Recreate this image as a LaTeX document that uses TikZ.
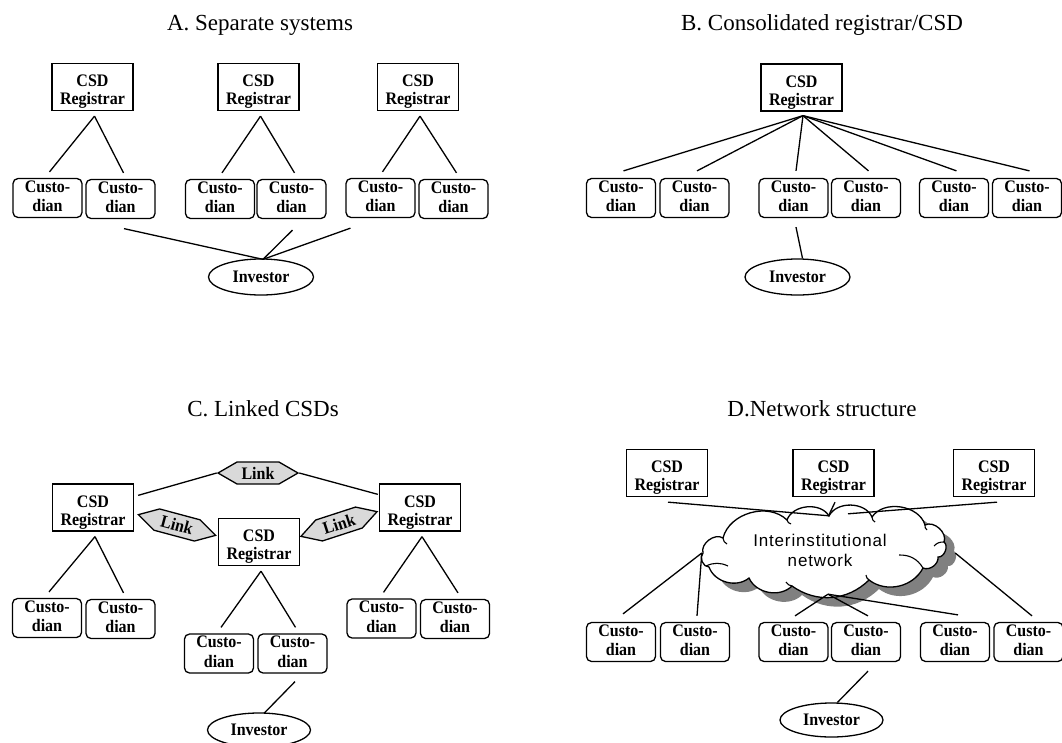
\documentclass[tikz,border=0pt]{standalone}
\usepackage{fontspec}
\usepackage{graphicx}
\setmainfont{Liberation Serif}
\newfontfamily\cloudfont{Liberation Sans}[LetterSpace=5]
\usetikzlibrary{shapes.geometric,shapes.symbols,calc}

\definecolor{linkgray}{HTML}{D9D9D9}
\definecolor{shadowgray}{HTML}{808080}

\tikzset{
  conn/.style={line width=1.3pt},
  labelfont/.style={font=\fontsize{16}{18}\selectfont\bfseries},
  registrar/.style={draw, line width=1.3pt, minimum width=81pt, minimum height=47pt,
    inner sep=0pt, font=\fontsize{16}{16.5}\selectfont\bfseries},
  custodian/.style={draw, line width=1.3pt, rounded corners=5pt, minimum width=69pt,
    minimum height=35pt, inner sep=0pt, font=\fontsize{16}{17.7}\selectfont\bfseries},
  investor/.style={ellipse, draw, line width=1.3pt, minimum width=105pt,
    minimum height=36pt, inner sep=0pt, labelfont},
  linkbox/.style={signal, signal to=east and west, signal pointer angle=60, draw,
    line width=1.3pt, fill=linkgray, minimum width=80pt, minimum height=22pt,
    inner sep=0pt, labelfont},
  title/.style={anchor=base, font=\fontsize{23}{27}\selectfont},
  curl/.style={line width=1.1pt},
}

% label texts, slightly tall
\newcommand\tall[1]{\scalebox{1}[1.1]{#1}}
\newcommand\regtext{\tall{\raisebox{-4.5pt}[\height][\depth]{%
  \begin{tabular}{@{}c@{}}CSD\\Registrar\end{tabular}}}}
\newcommand\custtext{\tall{\begin{tabular}{@{}c@{}}Custo-\\dian\end{tabular}}}

% one registrar feeding two custodians
\newcommand\regfork[3]{%
  \draw[conn] ($(#1.south)+(2,5)$) -- ($(#2.north)+(2,-6)$);
  \draw[conn] ($(#1.south)+(2,5)$) -- ($(#3.north)+(3,-6)$);}

% outline of the network cloud
\newcommand\cloudoutline{(703,553) to[bend left=70] (723,538)
  to[bend left=60] (787,520) to[bend left=65] (829,516)
  to[bend left=65] (872,517) to[bend left=65] (925,525)
  to[bend left=70] (944,542) to[bend left=75] (938,557)
  to[bend left=60] (923,568) to[bend left=50] (869,580)
  to[bend left=40] (792,586) to[bend left=55] (749,578)
  to[bend left=55] (709,567) to[bend left=70] (703,553) -- cycle}

\begin{document}
\begin{tikzpicture}[x=1pt,y=-1pt]
\useasboundingbox (0,0) rectangle (1062,742);

% ---------------- A. Separate systems ----------------
\node[title] (tA) at (260,30) {A. Separate systems};
\node[registrar] (rA1) at (92.5,87) {\regtext};
\node[registrar] (rA2) at (258.5,87) {\regtext};
\node[registrar] (rA3) at (418,87) {\regtext};
\node[custodian] (cA1) at (47.5,198) {\custtext};
\node[custodian] (cA2) at (120.5,199) {\custtext};
\node[custodian] (cA3) at (220,199) {\custtext};
\node[custodian] (cA4) at (291.5,199) {\custtext};
\node[custodian] (cA5) at (380.5,198) {\custtext};
\node[custodian] (cA6) at (453.5,199) {\custtext};
\node[investor] (iA) at (261,277) {\tall{Investor}};
\regfork{rA1}{cA1}{cA2}
\regfork{rA2}{cA3}{cA4}
\regfork{rA3}{cA5}{cA6}
\draw[conn] ($(cA2.south)+(3.5,9.5)$) -- ($(iA.north)+(2,1)$);
\draw[conn] ($(cA4.south)+(1,11)$) -- ($(iA.north)+(2,1)$);
\draw[conn] ($(cA5.south)+(-30,10)$) -- ($(iA.north)+(2,1)$);

% ---------------- B. Consolidated registrar/CSD ----------------
\node[title] (tB) at (822,30) {B. Consolidated registrar/CSD};
\node[registrar] (rB) at (801.5,87.5) {\regtext};
\node[custodian] (cB1) at (621,198) {\custtext};
\node[custodian] (cB2) at (694.5,198) {\custtext};
\node[custodian] (cB3) at (793.5,198) {\custtext};
\node[custodian] (cB4) at (866,198) {\custtext};
\node[custodian] (cB5) at (954,198) {\custtext};
\node[custodian] (cB6) at (1027,198) {\custtext};
\node[investor] (iB) at (797.5,277) {\tall{Investor}};
\foreach \c in {cB1,cB2,cB3,cB4,cB5,cB6}
  \draw[conn] ($(rB.south)+(1.5,4)$) -- ($(\c.north)+(2.5,-7)$);
\draw[conn] ($(cB3.south)+(2.5,9)$) -- ($(iB.north)+(5,0)$);

% ---------------- C. Linked CSDs ----------------
\node[title] (tC) at (263,416) {C. Linked CSDs};
\node[registrar] (rC1) at (93,507.5) {\regtext};
\node[registrar] (rC2) at (259,542) {\regtext};
\node[registrar] (rC3) at (420,507.5) {\regtext};
\node[linkbox] (lk1) at (258,473) {\tall{Link}};
\node[linkbox, rotate=-15] (lk2) at (177,525) {\tall{Link}};
\node[linkbox, rotate=18] (lk3) at (339,524) {\tall{Link}};
\draw[conn] ($(rC1.north east)+(4,12)$) -- (lk1.west);
\draw[conn] (lk1.east) -- ($(rC3.north west)+(-1,11)$);
\node[custodian] (cC1) at (47,618) {\custtext};
\node[custodian] (cC2) at (120.5,619) {\custtext};
\node[custodian] (cC3) at (219,653.5) {\custtext};
\node[custodian] (cC4) at (292.5,653.5) {\custtext};
\node[custodian] (cC5) at (381.5,618.5) {\custtext};
\node[custodian] (cC6) at (455,619) {\custtext};
\node[investor, minimum width=103pt, minimum height=34pt] (iC) at (259,730) {\tall{Investor}};
\regfork{rC1}{cC1}{cC2}
\regfork{rC2}{cC3}{cC4}
\regfork{rC3}{cC5}{cC6}
\draw[conn] ($(cC4.south)+(2.5,8)$) -- ($(iC.north)+(5,1)$);

% ---------------- D. Network structure ----------------
\node[title] (tD) at (822,416) {D.Network structure};
\node[registrar] (rD1) at (667,473) {\regtext};
\node[registrar] (rD2) at (833.5,473) {\regtext};
\node[registrar] (rD3) at (994,473) {\regtext};

% the cloud, its drop shadow and the little inner curls
\fill[shadowgray, shift={(10,9)}] \cloudoutline;
\draw[line width=1.3pt, fill=white] \cloudoutline;
\draw[curl] (723,538) to[bend right=30] (727,544);
\draw[curl] (787,520) to[bend right=30] (791,524);
\draw[curl] (872,517) to[bend right=30] (875,522);
\draw[curl] (925,525) to[bend right=30] (927,530);
\draw[curl] (944,542) to[bend right=25] (934,546);
\draw[curl] (706,566) to[bend left=25] (728,566);
\draw[curl] (899,555) to[bend left=30] (923,568);
\draw[curl] (869,580) to[bend left=25] (866,575);
\draw[curl] (792,586) to[bend left=25] (786,582);
\node[inner sep=0pt, minimum width=236pt, minimum height=74pt, align=center,
  font=\cloudfont\fontsize{17}{20}\selectfont] (net) at (820,550)
  {Interinstitutional\\network};

\node[custodian] (cD1) at (621,642) {\custtext};
\node[custodian] (cD2) at (695,642) {\custtext};
\node[custodian] (cD3) at (793.5,642) {\custtext};
\node[custodian] (cD4) at (866,642) {\custtext};
\node[custodian] (cD5) at (955,642) {\custtext};
\node[custodian] (cD6) at (1028.5,642) {\custtext};
\node[investor, minimum width=103pt, minimum height=34pt] (iD) at (831.5,720) {\tall{Investor}};
\draw[conn] ($(rD1.south)+(1,5)$) -- ($(net.north)+(9,3)$);
\draw[conn] ($(rD2.south)+(1.5,5)$) -- ($(net.north)+(9,2)$);
\draw[conn] ($(rD3.south)+(3,5)$) -- ($(net.north)+(28,1)$);
\draw[conn] ($(net.west)+(0,3)$) -- ($(cD1.north)+(2,-8)$);
\draw[conn] ($(net.west)+(0,3)$) -- ($(cD2.north)+(2,-6)$);
\draw[conn] ($(net.south)+(8,7)$) -- ($(cD3.north)+(1.5,-6)$);
\draw[conn] ($(net.south)+(8,7)$) -- ($(cD4.north)+(2,-6)$);
\draw[conn] ($(net.south)+(8,7)$) -- ($(cD5.north)+(3,-7)$);
\draw[conn] ($(net.east)+(17,3)$) -- ($(cD6.north)+(3.5,-6)$);
\draw[conn] ($(cD4.south)+(2,9)$) -- ($(iD.north)+(6,0)$);
\end{tikzpicture}
\end{document}
